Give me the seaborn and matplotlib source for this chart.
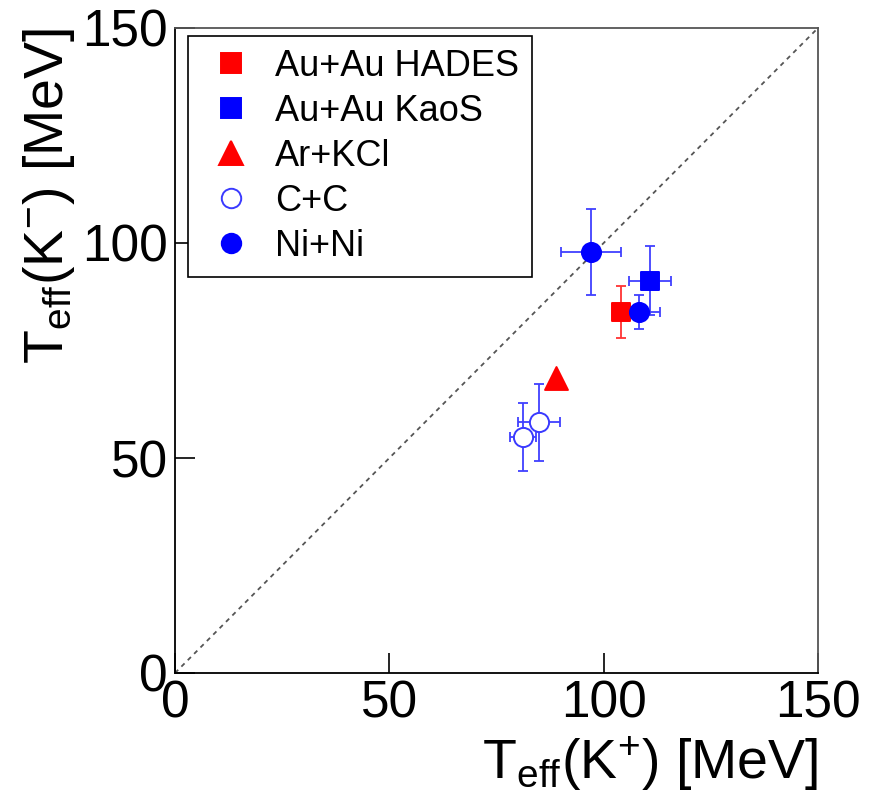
import matplotlib
matplotlib.use("Agg")
import matplotlib.pyplot as plt
from matplotlib.lines import Line2D
import seaborn as sns
import pandas as pd

# ---- data ----
systems = ["Au+Au HADES", "Au+Au KaoS", "Ar+KCl", "C+C", "C+C", "Ni+Ni", "Ni+Ni"]
teff_kplus = [104.0, 110.8, 88.9, 84.9, 81.2, 97.0, 108.2]
teff_kminus = [84.0, 91.2, 68.6, 58.3, 54.9, 97.9, 84.0]
err_kplus = [0.0, 5.0, 0.0, 5.0, 3.0, 7.0, 5.0]
err_kminus = [6.0, 8.0, 0.0, 9.0, 8.0, 10.0, 4.0]
legend_order = ["Au+Au HADES", "Au+Au KaoS", "Ar+KCl", "C+C", "Ni+Ni"]
axis_ticks = [0, 50, 100, 150]

styles = {
    "Au+Au HADES": dict(marker="s", color="#ff0000", face="#ff0000", size=175, lms=15),
    "Au+Au KaoS": dict(marker="s", color="#0000ff", face="#0000ff", size=175, lms=15),
    "Ar+KCl": dict(marker="^", color="#ff0000", face="#ff0000", size=272, lms=17),
    "C+C": dict(marker="o", color="#3a3aff", face="white", size=190, lms=14),
    "Ni+Ni": dict(marker="o", color="#0000ff", face="#0000ff", size=190, lms=14),
}

df = pd.DataFrame({"system": systems, "x": teff_kplus, "y": teff_kminus,
                   "xerr": err_kplus, "yerr": err_kminus})

sns.set_theme(style="white")
plt.rcParams["font.family"] = ["Liberation Sans", "DejaVu Sans"]
plt.rcParams["mathtext.fontset"] = "custom"
plt.rcParams["mathtext.rm"] = "Liberation Sans"
plt.rcParams["mathtext.it"] = "Liberation Sans"
for k in ["text.color", "axes.labelcolor", "xtick.color", "ytick.color"]:
    plt.rcParams[k] = "black"

fig = plt.figure(figsize=(8.76, 8.09), dpi=100)
ax = fig.add_axes([175 / 876, 1 - 673 / 809, 643 / 876, 645 / 809])

# diagonal
ax.plot([0, 150], [0, 150], ls=(0, (2.5, 2.5)), color="#555555", lw=1.3, zorder=1)

# error bars
for _, r in df.iterrows():
    st = styles[r["system"]]
    ecol = "#ff3333" if st["color"] == "#ff0000" else "#4040ff"
    if r["xerr"] > 0 or r["yerr"] > 0:
        ax.errorbar(r["x"], r["y"],
                    xerr=r["xerr"] if r["xerr"] > 0 else None,
                    yerr=r["yerr"] if r["yerr"] > 0 else None,
                    fmt="none", ecolor=ecol, elinewidth=1.3, capsize=3.4,
                    capthick=1.3, zorder=2)

# markers
for name in legend_order:
    st = styles[name]
    sub = df[df["system"] == name]
    sns.scatterplot(data=sub, x="x", y="y", ax=ax, marker=st["marker"],
                    s=st["size"], color=st["face"], edgecolor=st["color"],
                    linewidth=1.4, zorder=3, legend=False)

ax.set_xlim(0, 150)
ax.set_ylim(0, 150)
ax.set_xticks(axis_ticks)
ax.set_yticks(axis_ticks)
ax.tick_params(axis="both", direction="in", length=14.5, width=1.2, labelsize=37,
               colors="black", labelcolor="black", pad=5,
               top=False, right=False, bottom=True, left=True)
for side in ["left", "bottom"]:
    ax.spines[side].set_color("black")
    ax.spines[side].set_linewidth(1.3)
for side in ["top", "right"]:
    ax.spines[side].set_color("#555555")
    ax.spines[side].set_linewidth(1.3)

ax.set_xlabel(r"$\mathregular{T_{eff}(K^{+})}$ [MeV]", fontsize=40, loc="right",
              labelpad=4, color="black")
ax.set_ylabel(r"$\mathregular{T_{eff}(K^{-})}$ [MeV]", fontsize=40, loc="top",
              labelpad=4, color="black")

handles = []
for name in legend_order:
    st = styles[name]
    handles.append(Line2D([], [], ls="none", marker=st["marker"], markersize=st["lms"],
                          markerfacecolor=st["face"], markeredgecolor=st["color"],
                          markeredgewidth=1.4))
leg = ax.legend(handles, legend_order, loc="upper left", bbox_to_anchor=(13 / 643, 1 - 8 / 645),
                fontsize=26, frameon=True, fancybox=False, edgecolor="black",
                framealpha=1, borderpad=0.35, labelspacing=0.28, handletextpad=0.4,
                handlelength=1.67, borderaxespad=0)
leg.get_frame().set_linewidth(1.2)
for t in leg.get_texts():
    t.set_color("black")

fig.savefig("out.png", dpi=100)
